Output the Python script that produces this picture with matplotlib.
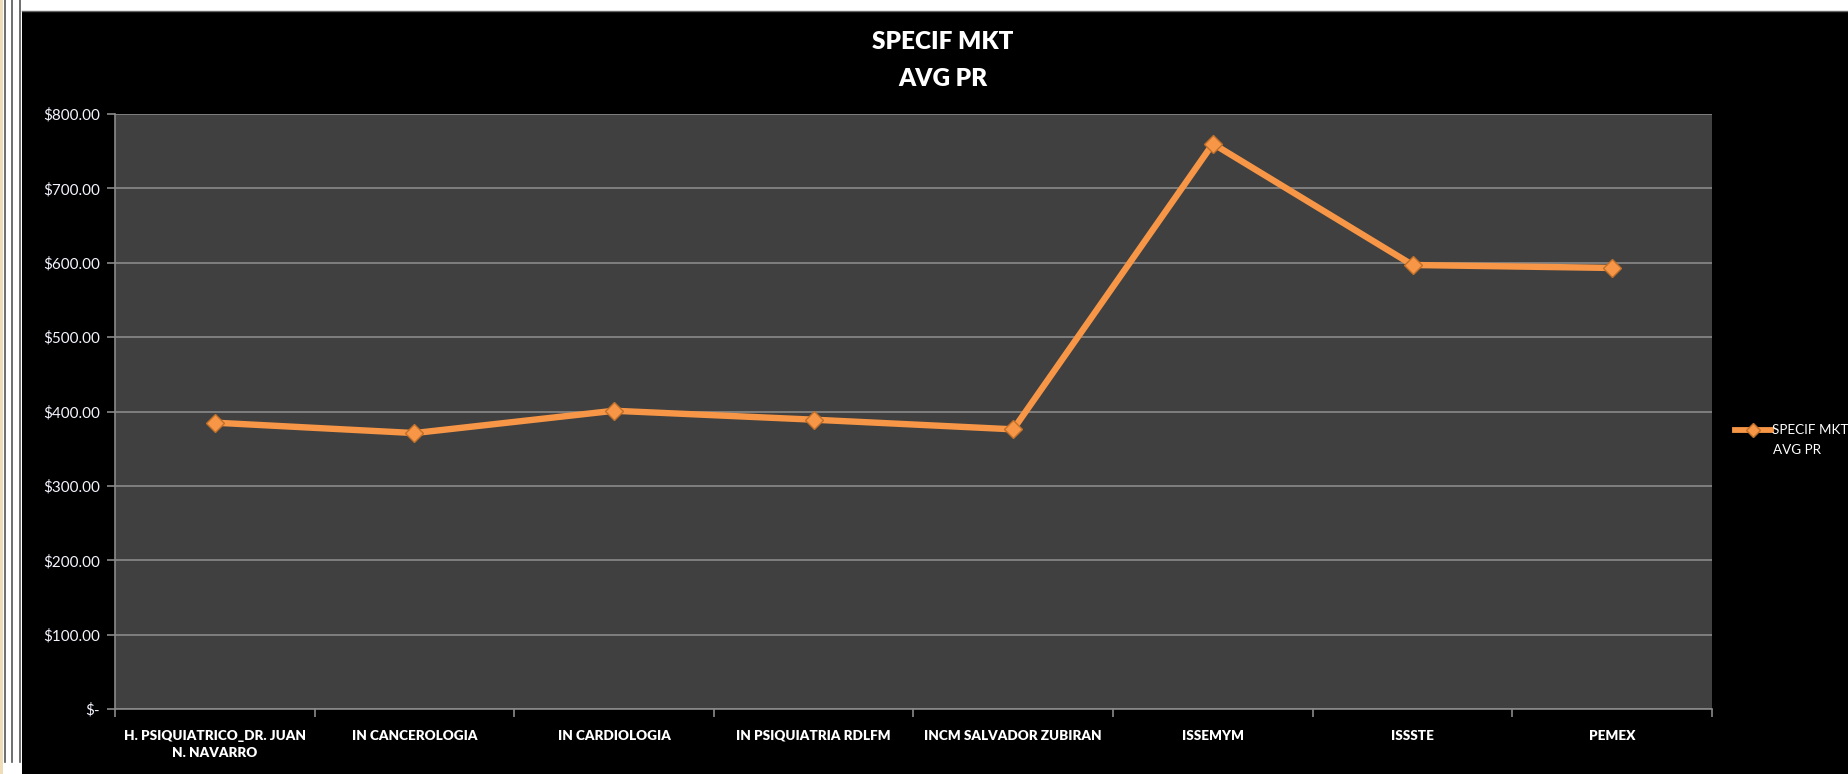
import matplotlib.pyplot as plt
from matplotlib.lines import Line2D
from matplotlib.patches import Rectangle
from matplotlib.ticker import FuncFormatter

categories = [
    "H. PSIQUIATRICO_DR. JUAN\nN. NAVARRO",
    "IN CANCEROLOGIA",
    "IN CARDIOLOGIA",
    "IN PSIQUIATRIA RDLFM",
    "INCM SALVADOR ZUBIRAN",
    "ISSEMYM",
    "ISSSTE",
    "PEMEX",
]
avg_pr = [385, 371, 401, 389, 376, 760, 597, 593]
y_ticks = [0, 100, 200, 300, 400, 500, 600, 700, 800]
series_title = ["SPECIF MKT", "AVG PR"]

FONT = ["Lato", "DejaVu Sans"]
ORANGE = "#f79646"
W, H = 1849, 774
fig = plt.figure(figsize=(W / 100, H / 100), dpi=100, facecolor="black")

# bits of the spreadsheet window visible round the chart
fig.patches.append(Rectangle((0, 0), 22 / W, 1, transform=fig.transFigure,
                             facecolor="white", edgecolor="none", zorder=0))
fig.patches.append(Rectangle((0, 1 - 11 / H), 1, 11 / H, transform=fig.transFigure,
                             facecolor="white", edgecolor="none", zorder=0))
fig.patches.append(Rectangle((0, 0), 3 / W, 1, transform=fig.transFigure,
                             facecolor="#efdcb8", edgecolor="none", zorder=1))
for xp in [5, 12, 20]:
    fig.add_artist(Line2D([xp / W, xp / W], [12 / H, 1], color="#555555", lw=1.2))
fig.add_artist(Line2D([22 / W, 1], [1 - 11 / H, 1 - 11 / H], color="#666666", lw=1))

left, right, top, bottom = 115, 1712, 114, 709
ax = fig.add_axes([left / W, 1 - bottom / H, (right - left) / W, (bottom - top) / H])
ax.set_facecolor("#404040")

x = list(range(len(categories)))
ax.plot(x, avg_pr, color=ORANGE, lw=4.6, marker="D", markersize=9.5,
        markerfacecolor=ORANGE, markeredgecolor="#c0702a", markeredgewidth=1,
        zorder=3, solid_joinstyle="round")

ax.set_xlim(-0.5, len(categories) - 0.5)
ax.set_ylim(0, 800)
ax.set_yticks(y_ticks)
ax.yaxis.set_major_formatter(FuncFormatter(lambda v, p: "$-" if v == 0 else f"${v:,.2f}"))
ax.grid(axis="y", color="#8a8a8a", lw=1.2)
ax.set_axisbelow(True)

# category labels centred, tick marks on the boundaries
ax.set_xticks([i + 0.5 for i in range(-1, len(categories))])
ax.set_xticklabels([])
ax.set_xticks(x, minor=True)
ax.set_xticklabels(categories, minor=True, color="white", fontsize=9.7,
                   fontweight="heavy", family=FONT, linespacing=1.55)
ax.tick_params(axis="x", which="minor", length=0, pad=15)
ax.tick_params(axis="x", which="major", length=6, color="#8a8a8a", width=1.2)
ax.tick_params(axis="y", length=6, color="#8a8a8a", width=1.2, labelcolor="#f4f4ff",
               labelsize=11, pad=5)
for lab in ax.get_yticklabels():
    lab.set_family(FONT)

for s in ["top", "right"]:
    ax.spines[s].set_visible(False)
for s in ["left", "bottom"]:
    ax.spines[s].set_color("#8a8a8a")
    ax.spines[s].set_linewidth(1.2)

fig.text(943 / W, 1 - 42 / H, series_title[0], color="white", fontsize=17.5,
         fontweight="heavy", ha="center", va="center", family=FONT)
fig.text(943 / W, 1 - 79 / H, series_title[1], color="white", fontsize=17.5,
         fontweight="heavy", ha="center", va="center", family=FONT)

# legend drawn by hand so the key sits on the first text line
fig.add_artist(Line2D([1735 / W, 1771 / W], [1 - 430 / H] * 2, color=ORANGE, lw=4.2))
fig.add_artist(Line2D([1753 / W], [1 - 430 / H], marker="D", markersize=7,
                      markerfacecolor=ORANGE, markeredgecolor="#c0702a"))
fig.text(1772 / W, 1 - 430 / H, series_title[0], color="white", fontsize=9.7,
         ha="left", va="center", family=FONT)
fig.text(1773 / W, 1 - 450 / H, series_title[1], color="white", fontsize=9.7,
         ha="left", va="center", family=FONT)

fig.savefig("out.png", dpi=100, facecolor=fig.get_facecolor())
